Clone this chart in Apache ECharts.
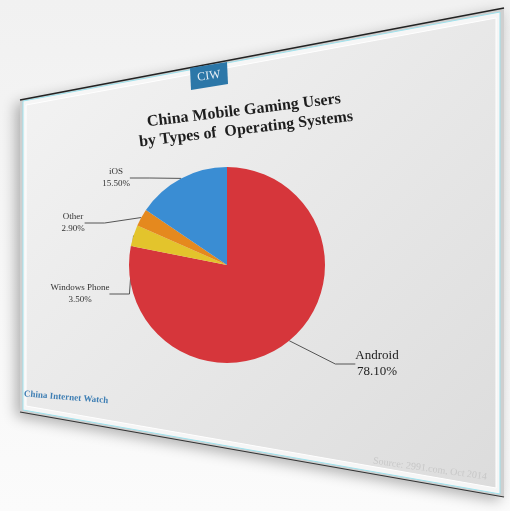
<!DOCTYPE html>
<html><head><meta charset="utf-8">
<script src="https://cdn.jsdelivr.net/npm/echarts@6/dist/echarts.min.js"></script>
<style>html,body{margin:0;padding:0;background:#fff}#c{width:510px;height:511px}</style>
</head><body><div id="c"></div>
<script>
var categories = ['Android', 'Windows Phone', 'Other', 'iOS'];
var values = [78.10, 3.50, 2.90, 15.50];
var colors = ['#d6363b', '#e3c42c', '#e5891e', '#3a8dd3'];
var labelPos = {
  'Android': [377, 348],
  'Windows Phone': [80, 282],
  'Other': [73, 211],
  'iOS': [116, 166]
};
var chart = echarts.init(document.getElementById('c'));
var serif = '"Liberation Serif","DejaVu Serif",serif';
chart.setOption({
  animation: false,
  backgroundColor: new echarts.graphic.LinearGradient(0, 0, 0, 1, [
    { offset: 0, color: '#f1f1f1' }, { offset: 1, color: '#fbfbfb' }]),
  graphic: [
    { type: 'polygon', z: 0, shape: { points: [[20, 100], [504, 8], [504, 497], [20, 412]] },
      style: { fill: '#cfcfcf', shadowBlur: 14, shadowOffsetX: -4, shadowOffsetY: 4, shadowColor: 'rgba(0,0,0,0.3)' } },
    { type: 'polygon', z: 1, shape: { points: [[23, 101], [500, 12], [500, 494], [23, 410]] },
      style: { fill: '#f6f6f6', stroke: '#9fe3ee', lineWidth: 1 } },
    { type: 'polygon', z: 1, shape: { points: [[26, 105], [496, 18], [496, 488], [26, 406]] },
      style: { fill: new echarts.graphic.LinearGradient(0, 0, 1, 1, [
        { offset: 0, color: '#f4f4f4' }, { offset: 1, color: '#dcdcdc' }]),
        stroke: '#ffffff', lineWidth: 1 } },
    { type: 'polyline', z: 2, shape: { points: [[20, 100], [504, 8]] },
      style: { stroke: '#222', lineWidth: 1.5 } },
    { type: 'polyline', z: 2, shape: { points: [[20, 412], [504, 497]] },
      style: { stroke: '#333', lineWidth: 1.2 } },
    { type: 'polygon', z: 2, shape: { points: [[190, 68], [227, 62], [228, 84], [191, 90]] },
      style: { fill: '#2c77a8' } },
    { type: 'text', z: 3, x: 209, y: 76, rotation: 0.13,
      style: { text: 'CIW', fill: '#e6eef5', font: '12px ' + serif, align: 'center', verticalAlign: 'middle' } },
    { type: 'text', z: 3, x: 245, y: 120, rotation: 0.12,
      style: { text: 'China Mobile Gaming Users\nby Types of  Operating Systems', fill: '#1e1e1e',
        font: 'bold 16px ' + serif, lineHeight: 19, align: 'center', verticalAlign: 'middle' } },
    { type: 'text', z: 3, x: 24, y: 394, rotation: -0.08,
      style: { text: 'China Internet Watch', fill: '#3f7fb4', font: 'bold 9px ' + serif, align: 'left', verticalAlign: 'middle' } },
    { type: 'text', z: 3, x: 430, y: 469, rotation: -0.14,
      style: { text: 'Source: 2991.com, Oct 2014', fill: '#c8c8c8', font: '10px ' + serif, align: 'center', verticalAlign: 'middle' } }
  ],
  series: [{
    type: 'pie',
    z: 5,
    center: [227, 265],
    radius: 98,
    startAngle: 90,
    clockwise: true,
    data: categories.map(function (n, i) {
      var big = n === 'Android';
      return { name: n, value: values[i], itemStyle: { color: colors[i] },
        label: big ? { fontSize: 13, lineHeight: 16, color: '#222' } : {} };
    }),
    label: {
      show: true,
      formatter: function (p) { return p.name + '\n' + p.value.toFixed(2) + '%'; },
      fontFamily: serif,
      color: '#333',
      fontSize: 9,
      lineHeight: 12,
      align: 'center'
    },
    labelLine: { show: true, length: 10, length2: 20, lineStyle: { color: '#555', width: 1 } },
    labelLayout: function (params) {
      var p = labelPos[categories[params.dataIndex]];
      return { x: p[0], y: p[1], align: 'center', verticalAlign: 'top' };
    }
  }]
});
</script></body></html>
